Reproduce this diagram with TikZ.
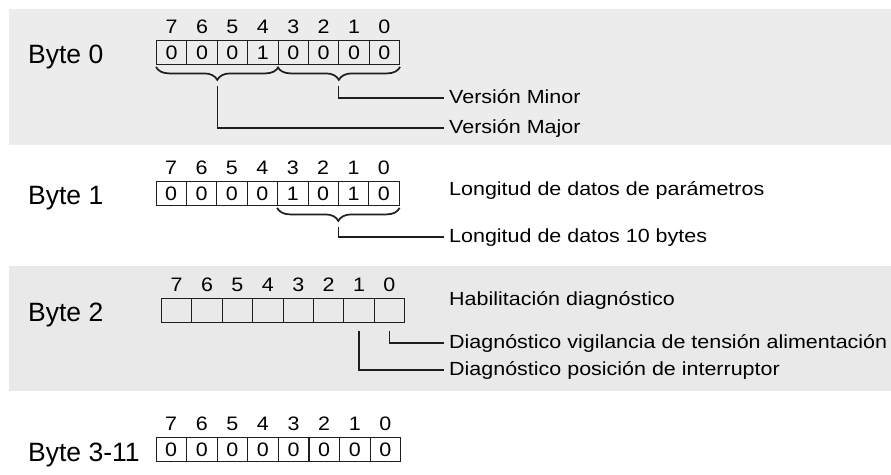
\documentclass[tikz,border=0pt]{standalone}
\usepackage{fontspec}
\setmainfont{Liberation Sans}
\newfontfamily\widefont[FakeStretch=1.13]{Liberation Sans}
\newfontfamily\digitfont[FakeStretch=1.1]{Liberation Sans}
\usetikzlibrary{decorations.pathreplacing,calc}
\definecolor{bandA}{RGB}{236,236,236}
\definecolor{bandB}{RGB}{233,233,233}
\definecolor{ink}{RGB}{30,30,30}

\begin{document}
\begin{tikzpicture}[x=1pt,y=-1pt,
  cell/.style={draw=ink, line width=0.9pt, minimum width=30.4pt, minimum height=24pt,
    inner sep=0pt, anchor=north west, font=\digitfont\fontsize{19.5}{19.5}\selectfont},
  bitnum/.style={inner sep=0pt, font=\digitfont\fontsize{19.5}{19.5}\selectfont},
  bytelbl/.style={anchor=west, inner sep=0pt, text height=18.5pt, text depth=0pt,
    font=\fontsize{26.5}{26.5}\selectfont},
  desc/.style={anchor=west, inner xsep=5pt, inner ysep=0pt, text height=11pt,
    text depth=0pt, font=\widefont\fontsize{19}{19}\selectfont},
  lead/.style={draw=ink, line width=1.2pt},
  brc/.style={decorate, decoration={brace, mirror, amplitude=13pt}, line width=1.7pt, draw=ink},
]
\useasboundingbox (0,0) rectangle (891,474);

% shaded bands behind bytes 0 and 2
\fill[bandA] (9,9) rectangle (891,145);
\fill[bandB] (9,266) rectangle (891,391);

% ---------- Byte 0 ----------
\node[bytelbl] (lbl0) at (28,54) {Byte 0};
\foreach \i/\v in {0/0,1/0,2/0,3/1,4/0,5/0,6/0,7/0}{
  \pgfmathtruncatemacro\b{7-\i}
  \node[cell] (r0c\b) at (156+\i*30.4,40) {\v};
  \node[bitnum] (r0n\b) at ($(r0c\b.north)+(0,-13)$) {\b};
}
\draw[brc] ($(r0c7.south west)+(0,2)$) -- ($(r0c4.south east)+(0,2)$);
\draw[brc] ($(r0c3.south west)+(0,2)$) -- ($(r0c0.south east)+(0,2)$);
\coordinate (hi0) at ($(r0c7.south west)!0.5!(r0c4.south east)+(0,21)$);
\coordinate (lo0) at ($(r0c3.south west)!0.5!(r0c0.south east)+(0,21)$);
\node[desc] (minor) at (444,98) {Versión Minor};
\node[desc] (major) at (444,128) {Versión Major};
\draw[lead] (lo0) |- (minor.west);
\draw[lead] (hi0) |- (major.west);

% ---------- Byte 1 ----------
\node[bytelbl] (lbl1) at (28,195) {Byte 1};
\foreach \i/\v in {0/0,1/0,2/0,3/0,4/1,5/0,6/1,7/0}{
  \pgfmathtruncatemacro\b{7-\i}
  \node[cell] (r1c\b) at (155.5+\i*30.4,181) {\v};
  \node[bitnum] (r1n\b) at ($(r1c\b.north)+(0,-13)$) {\b};
}
\draw[brc] ($(r1c3.south west)+(0,2)$) -- ($(r1c0.south east)+(0,2)$);
\coordinate (lo1) at ($(r1c3.south west)!0.5!(r1c0.south east)+(0,21)$);
\node[desc] (plen) at (444,190) {Longitud de datos de parámetros};
\node[desc] (len10) at (444,237) {Longitud de datos 10 bytes};
\draw[lead] (lo1) |- (len10.west);

% ---------- Byte 2 ----------
\node[bytelbl] (lbl2) at (28,312) {Byte 2};
\foreach \i in {0,...,7}{
  \pgfmathtruncatemacro\b{7-\i}
  \node[cell] (r2c\b) at (161+\i*30.4,298) {};
  \node[bitnum] (r2n\b) at ($(r2c\b.north)+(0,-13)$) {\b};
}
\coordinate (b0a) at ($(r2c0.south)+(0,8)$);
\coordinate (b1a) at ($(r2c1.south)+(0,8)$);
\node[desc] (diagen) at (444,300) {Habilitación diagnóstico};
\node[desc] (vig) at (444,343) {Diagnóstico vigilancia de tensión alimentación};
\node[desc] (pos) at (444,370) {Diagnóstico posición de interruptor};
\draw[lead] (b0a) |- (vig.west);
\draw[lead] (b1a) |- (pos.west);

% ---------- Byte 3-11 ----------
\node[bytelbl] (lbl3) at (28,452) {Byte 3-11};
\foreach \i in {0,...,7}{
  \pgfmathtruncatemacro\b{7-\i}
  \node[cell] (r3c\b) at (155.5+\i*30.6,437) {0};
  \node[bitnum] (r3n\b) at ($(r3c\b.north)+(0,-13)$) {\b};
}
\end{tikzpicture}
\end{document}
